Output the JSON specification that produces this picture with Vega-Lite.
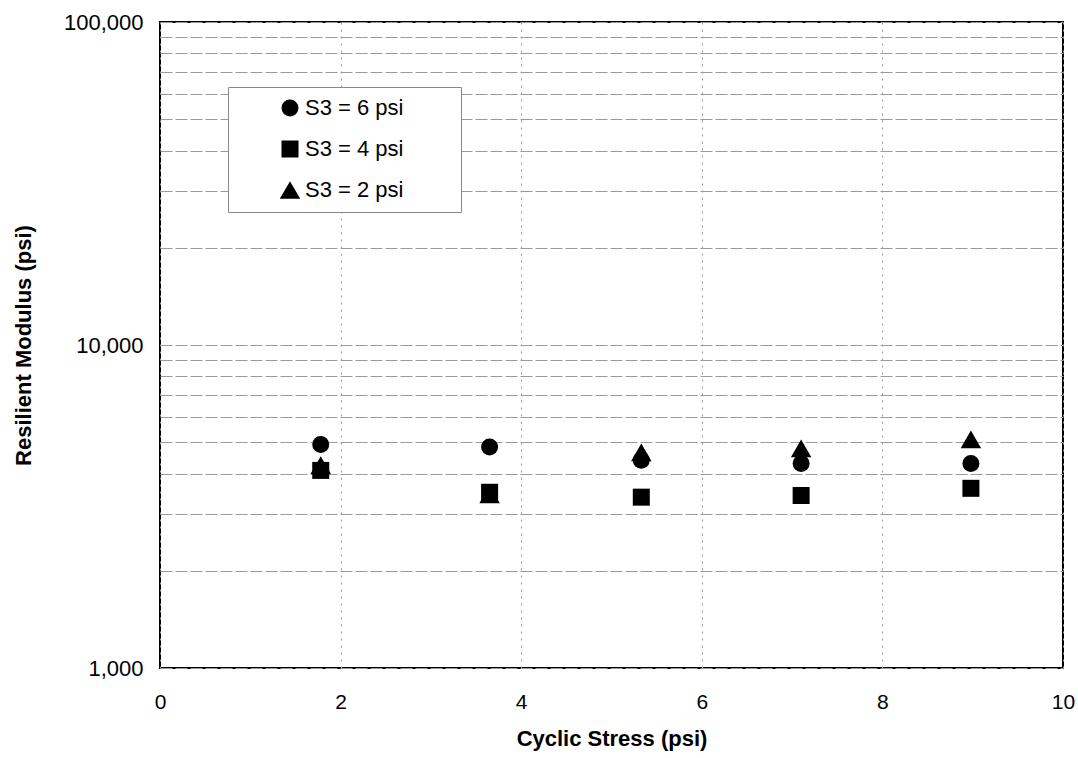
{
  "$schema": "https://vega.github.io/schema/vega-lite/v6.json",
  "width": 903,
  "height": 646,
  "autosize": {"type": "none"},
  "padding": {"left": 160, "top": 22, "right": 15, "bottom": 90},
  "background": "white",
  "config": {
    "view": {"stroke": "black", "strokeWidth": 2},
    "font": "Liberation Sans"
  },
  "data": {
    "values": [
      {"series": "S3 = 2 psi", "stress": 1.78, "modulus": 4250},
      {"series": "S3 = 2 psi", "stress": 3.65, "modulus": 3450},
      {"series": "S3 = 2 psi", "stress": 5.33, "modulus": 4650},
      {"series": "S3 = 2 psi", "stress": 7.1, "modulus": 4790},
      {"series": "S3 = 2 psi", "stress": 8.98, "modulus": 5100},
      {"series": "S3 = 6 psi", "stress": 1.78, "modulus": 4920},
      {"series": "S3 = 6 psi", "stress": 3.65, "modulus": 4830},
      {"series": "S3 = 6 psi", "stress": 5.33, "modulus": 4400},
      {"series": "S3 = 6 psi", "stress": 7.1, "modulus": 4300},
      {"series": "S3 = 6 psi", "stress": 8.98, "modulus": 4300},
      {"series": "S3 = 4 psi", "stress": 1.78, "modulus": 4090},
      {"series": "S3 = 4 psi", "stress": 3.65, "modulus": 3500},
      {"series": "S3 = 4 psi", "stress": 5.33, "modulus": 3380},
      {"series": "S3 = 4 psi", "stress": 7.1, "modulus": 3420},
      {"series": "S3 = 4 psi", "stress": 8.98, "modulus": 3600}
    ]
  },
  "mark": {"type": "point", "filled": true, "opacity": 1, "color": "black"},
  "encoding": {
    "x": {
      "field": "stress",
      "type": "quantitative",
      "scale": {"domain": [0, 10], "nice": false, "zero": false},
      "axis": {
        "title": "Cyclic Stress (psi)",
        "values": [0, 2, 4, 6, 8, 10],
        "grid": true,
        "gridColor": "#999999",
        "gridDash": [2, 5],
        "ticks": false,
        "tickSize": 0,
        "domain": false,
        "labelFlush": false,
        "labelFontSize": 21,
        "labelColor": "black",
        "labelPadding": 23,
        "titleFontSize": 22,
        "titleFontWeight": "bold",
        "titleColor": "black",
        "titlePadding": 16
      }
    },
    "y": {
      "field": "modulus",
      "type": "quantitative",
      "scale": {"type": "log", "domain": [1000, 100000], "nice": false},
      "axis": {
        "title": "Resilient Modulus (psi)",
        "values": [1000, 2000, 3000, 4000, 5000, 6000, 7000, 8000, 9000, 10000, 20000, 30000, 40000, 50000, 60000, 70000, 80000, 90000, 100000],
        "format": ",d",
        "labelExpr": "indexof([1000, 10000, 100000], datum.value) >= 0 ? datum.label : ''",
        "grid": true,
        "gridColor": "#9a9a9a",
        "gridDash": [12, 3],
        "ticks": false,
        "tickSize": 0,
        "domain": false,
        "labelFlush": false,
        "labelFontSize": 22,
        "labelColor": "black",
        "labelPadding": 17,
        "titleFontSize": 22,
        "titleFontWeight": "bold",
        "titleColor": "black",
        "titlePadding": 28
      }
    },
    "shape": {
      "field": "series",
      "type": "nominal",
      "scale": {
        "domain": ["S3 = 6 psi", "S3 = 4 psi", "S3 = 2 psi"],
        "range": ["circle", "square", "triangle-up"]
      },
      "legend": {
        "orient": "none",
        "legendX": 68,
        "legendY": 65,
        "title": " ",
        "titleOrient": "right",
        "titlePadding": 48,
        "fillColor": "white",
        "strokeColor": "#888888",
        "padding": 10,
        "symbolFillColor": "black",
        "symbolStrokeColor": "black",
        "symbolOffset": 41,
        "labelOffset": 4,
        "labelFontSize": 22,
        "labelColor": "black",
        "rowPadding": 17
      }
    },
    "size": {
      "field": "series",
      "type": "nominal",
      "scale": {
        "type": "ordinal",
        "domain": ["S3 = 6 psi", "S3 = 4 psi", "S3 = 2 psi"],
        "range": [289, 289, 420]
      },
      "legend": {
        "orient": "none",
        "legendX": 68,
        "legendY": 65,
        "title": " ",
        "titleOrient": "right",
        "titlePadding": 48,
        "fillColor": "white",
        "strokeColor": "#888888",
        "padding": 10,
        "symbolFillColor": "black",
        "symbolStrokeColor": "black",
        "symbolOffset": 41,
        "labelOffset": 4,
        "labelFontSize": 22,
        "labelColor": "black",
        "rowPadding": 17
      }
    }
  }
}
